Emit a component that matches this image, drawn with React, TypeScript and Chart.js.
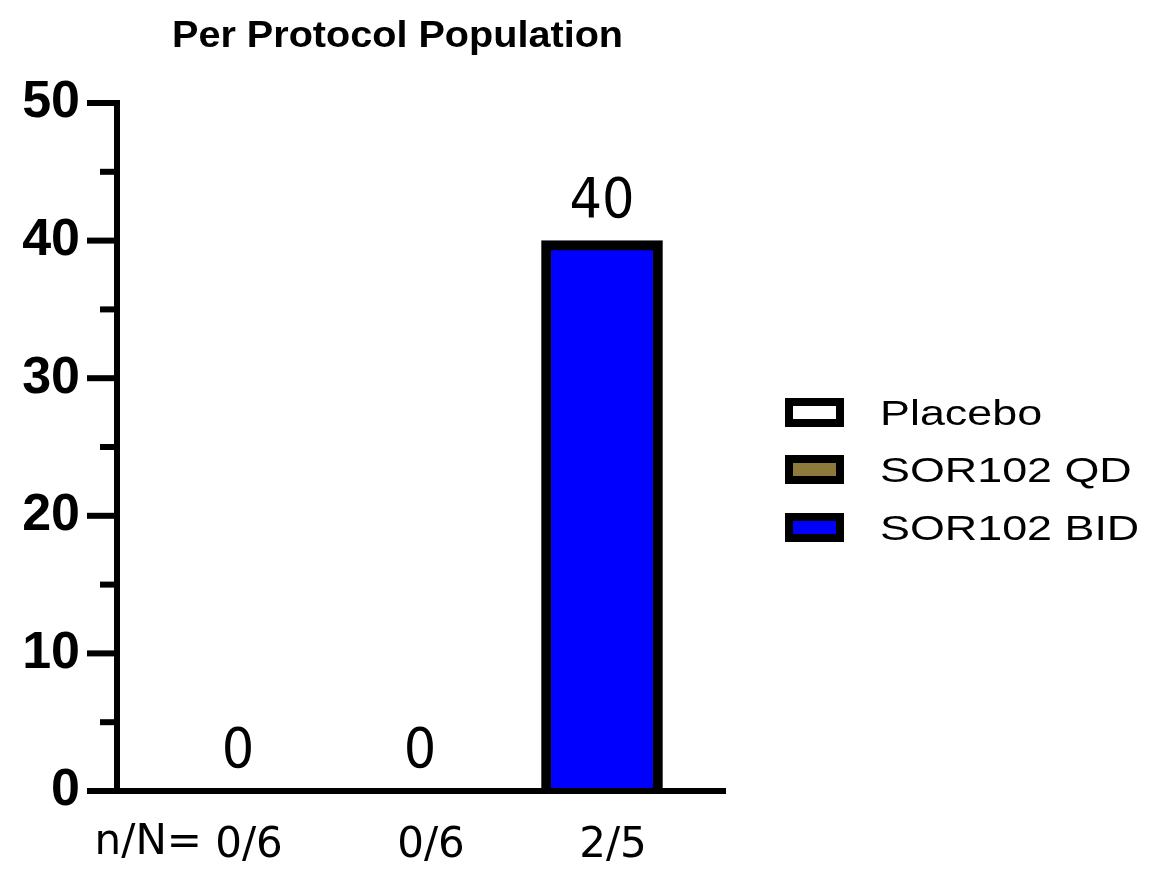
import React, { useEffect, useRef } from "react";
import { Chart, registerables } from "chart.js";

Chart.register(...registerables);

const categories = ["0/6", "0/6", "2/5"];
const seriesNames = ["Placebo", "SOR102 QD", "SOR102 BID"];
const seriesValues = [0, 0, 40];
const seriesColors = ["#FFFFFF", "#8C7B3A", "#0000FF"];
const yTickValues = [0, 5, 10, 15, 20, 25, 30, 35, 40, 45, 50];
const titleText = "Per Protocol Population";
const xPrefix = "n/N=";

const W = 1165;
const H = 879;

const drawPlugin = {
  id: "customDraw",
  afterDatasetsDraw(chart: any) {
    const ctx = chart.ctx;
    chart.data.datasets.forEach((ds: any, di: number) => {
      const meta = chart.getDatasetMeta(di);
      meta.data.forEach((el: any, i: number) => {
        const raw = ds.data[i];
        if (!raw) return;
        ctx.save();
        ctx.translate(el.x, el.y - 24);
        ctx.scale(0.93, 1);
        ctx.font = '55px "DejaVu Sans"';
        ctx.fillStyle = "#000";
        ctx.textAlign = "center";
        ctx.textBaseline = "alphabetic";
        ctx.fillText(String(raw.y), 0, 0);
        ctx.restore();
      });
    });
  },
  afterDraw(chart: any) {
    const ctx = chart.ctx;
    const ys = chart.scales.y;
    const area = chart.chartArea;
    const ax = area.left;
    const ay = area.bottom;
    ctx.save();
    ctx.fillStyle = "#000";
    ctx.fillRect(ax - 3, area.top - 3, 6, ay - area.top + 6);
    ctx.fillRect(ax - 30, ay - 3, area.right + 1 - (ax - 30), 6);
    yTickValues.forEach((v) => {
      const py = ys.getPixelForValue(v);
      const major = v % 10 === 0;
      const len = major ? 30 : 17;
      ctx.fillRect(ax - len, py - 3, len, 6);
    });
    ctx.font = '42px "DejaVu Sans"';
    ctx.textAlign = "right";
    ctx.textBaseline = "middle";
    ctx.fillText(xPrefix, 202, 843);
    ctx.save();
    ctx.translate(397.5, 47);
    ctx.scale(1.1, 1);
    ctx.font = 'bold 36px "Liberation Sans"';
    ctx.textAlign = "center";
    ctx.textBaseline = "alphabetic";
    ctx.fillText(titleText, 0, 0);
    ctx.restore();
    const boxTops = [398, 455, 513];
    chart.data.datasets.forEach((ds: any, i: number) => {
      const top = boxTops[i];
      const left = 785;
      const bw = 59;
      const bh = 29;
      ctx.fillStyle = ds.backgroundColor;
      ctx.fillRect(left, top, bw, bh);
      ctx.strokeStyle = "#000";
      ctx.lineWidth = 8;
      ctx.strokeRect(left + 4, top + 4, bw - 8, bh - 8);
      ctx.save();
      ctx.translate(880, top + bh / 2 + 12);
      ctx.scale(1.3, 1);
      ctx.fillStyle = "#000";
      ctx.font = '34.5px "Liberation Sans"';
      ctx.textAlign = "left";
      ctx.textBaseline = "alphabetic";
      ctx.fillText(ds.label, 0, 0);
      ctx.restore();
    });
    ctx.restore();
  },
};

export default function App() {
  const ref = useRef<HTMLCanvasElement>(null);
  useEffect(() => {
    if (!ref.current) return;
    const datasets = seriesNames.map((name, i) => ({
      label: name,
      data: [{ x: i, y: seriesValues[i] }],
      backgroundColor: seriesColors[i],
      borderColor: "#000",
      borderWidth: 10,
      barThickness: 121,
      grouped: false,
    }));
    const chart = new Chart(ref.current, {
      type: "bar",
      data: { datasets } as any,
      options: {
        animation: false,
        responsive: false,
        devicePixelRatio: 1,
        layout: { padding: { top: 103, right: 440, left: 0, bottom: 0 } },
        plugins: {
          legend: { display: false },
          tooltip: { enabled: false },
          title: { display: false },
        },
        scales: {
          x: {
            type: "linear",
            offset: false,
            min: -0.6648,
            max: 2.6758,
            grid: { display: false },
            border: { display: false },
            afterBuildTicks: (s: any) => {
              s.ticks = categories.map((_, i) => ({ value: i }));
            },
            afterFit: (s: any) => {
              s.height = 88;
            },
            ticks: {
              autoSkip: false,
              maxRotation: 0,
              padding: 22,
              labelOffset: 11,
              color: "#000",
              font: { family: "DejaVu Sans", size: 42 },
              callback: (v: any) => categories[Math.round(Number(v))] ?? "",
            },
          },
          y: {
            min: 0,
            max: 50,
            grid: { display: false },
            border: { display: false },
            afterFit: (s: any) => {
              s.width = 117;
            },
            ticks: {
              stepSize: 10,
              padding: 29,
              color: "#000",
              font: { family: "Liberation Sans", size: 52, weight: "bold" },
            },
          },
        },
      } as any,
      plugins: [drawPlugin],
    });
    return () => chart.destroy();
  }, []);
  return (
    <div style={{ position: "fixed", left: 0, top: 0, width: W, height: H, background: "#fff" }}>
      <canvas ref={ref} width={W} height={H} style={{ display: "block" }} />
    </div>
  );
}
